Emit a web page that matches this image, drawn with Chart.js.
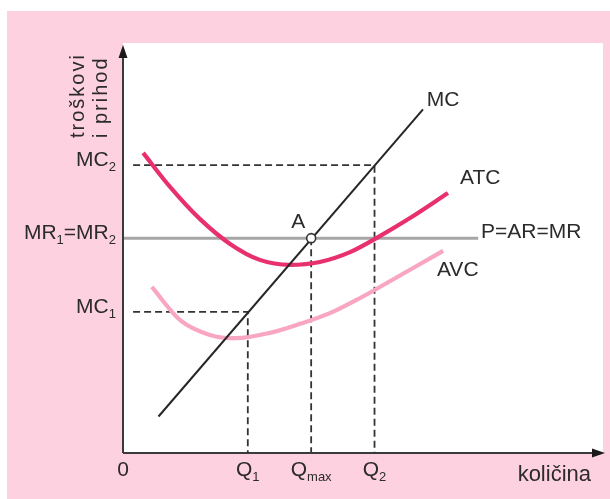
<!DOCTYPE html>
<html><head><meta charset="utf-8">
<style>html,body{margin:0;padding:0;background:#fff}canvas{display:block}</style>
<script src="https://cdn.jsdelivr.net/npm/chart.js@4.4.0/dist/chart.umd.min.js"></script>
</head><body>
<canvas id="c" width="610" height="499"></canvas>
<script>
// ---- data ----
const xTickValues = [0, 26, 39.2, 52.4];
const xTickLabels = ['0', 'Q_1', 'Q_max', 'Q_2'];
const yTickValues = [70.2, 52.4, 34.4];
const yTickLabels = ['MC_2', 'MR_1=MR_2', 'MC_1'];

const mcX = [7.4, 62.5];
const mcY = [8.9, 83.8];
const atcX = [4.2, 9.8, 16.0, 22.3, 28.5, 34.8, 41.0, 47.3, 53.5, 59.8, 67.7];
const atcY = [73.2, 64.9, 57.1, 51.0, 47.1, 45.9, 46.6, 49.0, 52.9, 57.3, 63.4];
const avcX = [6.0, 11.9, 18.1, 23.5, 30.6, 36.9, 43.1, 49.4, 55.6, 61.9, 66.7];
const avcY = [40.5, 32.4, 28.8, 28.0, 29.3, 31.5, 34.1, 37.8, 41.9, 46.1, 49.3];
const priceX = [0, 74];
const priceLevel = 52.4;
const pointAX = 39.2;
const pointAY = 52.4;

const curveNames = ['MC', 'ATC', 'AVC', 'P=AR=MR', 'A'];
const xAxisTitle = 'količina';
const yAxisTitle = ['troškovi', 'i prihod'];

// ---- annotation placement (layout config) ----
const annot = {
  MC: {x: 63.3, y: 86.1, align: 'left'},
  ATC: {x: 70.2, y: 67.1, align: 'left'},
  AVC: {x: 65.4, y: 44.6, align: 'left'},
  'P=AR=MR': {x: 74.6, y: 53.9, align: 'left'},
  A: {x: 36.5, y: 56.3, align: 'center'}
};
const dashStartX = 2.1;

const pts = (xs, ys) => xs.map((x, i) => ({x, y: ys[i]}));

// dashed guide lines built from tick values
const guideMC2 = [{x: dashStartX, y: yTickValues[0]}, {x: xTickValues[3], y: yTickValues[0]}, {x: xTickValues[3], y: 0}];
const guideMC1 = [{x: dashStartX, y: yTickValues[2]}, {x: xTickValues[1], y: yTickValues[2]}, {x: xTickValues[1], y: 0}];
const guideQmax = [{x: xTickValues[2], y: priceLevel}, {x: xTickValues[2], y: 0}];

const TXT = '#2b2b2b';
const FONT = '"Liberation Sans", Arial, sans-serif';

function parseRich(s) {
  const parts = [];
  let i = 0, cur = '', sub = false;
  while (i < s.length) {
    const ch = s[i];
    if (ch === '_') { if (cur) parts.push({t: cur, sub}); cur = ''; sub = true; }
    else if (ch === '=' && sub) { if (cur) parts.push({t: cur, sub}); cur = '='; sub = false; }
    else cur += ch;
    i++;
  }
  if (cur) parts.push({t: cur, sub});
  return parts;
}
function drawRich(ctx, s, x, y, align, size) {
  const parts = parseRich(s);
  const mainF = size + 'px ' + FONT, subF = Math.round(size * 0.62) + 'px ' + FONT;
  let w = 0;
  parts.forEach(p => { ctx.font = p.sub ? subF : mainF; p.w = ctx.measureText(p.t).width; w += p.w; });
  let cx = align === 'right' ? x - w : align === 'center' ? x - w / 2 : x;
  ctx.textAlign = 'left'; ctx.textBaseline = 'middle'; ctx.fillStyle = TXT;
  parts.forEach(p => {
    ctx.font = p.sub ? subF : mainF;
    ctx.fillText(p.t, cx, p.sub ? y + 7 : y);
    cx += p.w;
  });
}

const deco = {
  id: 'deco',
  beforeDraw(chart) {
    const {ctx, chartArea: a} = chart;
    ctx.save();
    ctx.fillStyle = '#ffffff'; ctx.fillRect(0, 0, chart.width, chart.height);
    ctx.fillStyle = '#fed1e0'; ctx.fillRect(7, 11, chart.width - 7, chart.height - 11);
    ctx.fillStyle = '#ffffff'; ctx.fillRect(a.left, a.top, a.right - a.left, a.bottom - a.top);
    ctx.restore();
  },
  afterDraw(chart) {
    const {ctx, chartArea: a, scales: {x, y}} = chart;
    ctx.save();
    // axes
    ctx.strokeStyle = '#3a3a3a'; ctx.fillStyle = '#1a1a1a'; ctx.lineWidth = 2;
    const ox = x.getPixelForValue(0), oy = y.getPixelForValue(0);
    ctx.beginPath(); ctx.moveTo(ox, oy); ctx.lineTo(ox, a.top + 8); ctx.stroke();
    ctx.beginPath(); ctx.moveTo(ox, a.top + 2); ctx.lineTo(ox - 4.5, a.top + 15); ctx.lineTo(ox + 4.5, a.top + 15); ctx.closePath(); ctx.fill();
    ctx.beginPath(); ctx.moveTo(ox, oy); ctx.lineTo(a.right - 8, oy); ctx.stroke();
    ctx.beginPath(); ctx.moveTo(a.right + 2, oy); ctx.lineTo(a.right - 11, oy - 4.5); ctx.lineTo(a.right - 11, oy + 4.5); ctx.closePath(); ctx.fill();
    // x ticks
    xTickValues.forEach((v, i) => drawRich(ctx, xTickLabels[i], x.getPixelForValue(v), oy + 17, 'center', 21));
    // y ticks
    yTickValues.forEach((v, i) => drawRich(ctx, yTickLabels[i], ox - 7, y.getPixelForValue(v) - 5, 'right', 21));
    // curve labels
    curveNames.forEach(n => {
      const p = annot[n];
      drawRich(ctx, n, x.getPixelForValue(p.x), y.getPixelForValue(p.y), p.align, 21);
    });
    // axis titles
    ctx.fillStyle = TXT; ctx.font = '22px ' + FONT; ctx.textAlign = 'right'; ctx.textBaseline = 'middle';
    ctx.fillText(xAxisTitle, a.right - 12, oy + 22);
    ctx.save();
    ctx.font = '20px ' + FONT;
    ctx.letterSpacing = '2px';
    ctx.textAlign = 'left'; ctx.textBaseline = 'alphabetic';
    [[84, yAxisTitle[0]], [107, yAxisTitle[1]]].forEach(([bx, t]) => {
      ctx.save(); ctx.translate(bx, 138); ctx.rotate(-Math.PI / 2); ctx.fillText(t, 0, 0); ctx.restore();
    });
    ctx.restore();
    ctx.restore();
  }
};

const line = (data, color, width, extra) => Object.assign({
  data, showLine: true, borderColor: color, borderWidth: width, pointRadius: 0,
  tension: 0, fill: false, borderCapStyle: 'butt'
}, extra || {});

new Chart(document.getElementById('c'), {
  type: 'scatter',
  data: {
    datasets: [
      {data: [{x: pointAX, y: pointAY}], pointRadius: 4.5, pointBackgroundColor: '#fff', pointBorderColor: '#333', pointBorderWidth: 1.6, showLine: false},
      line(pts(mcX, mcY), '#262626', 2),
      line(pts(atcX, atcY), '#e8306e', 4.2, {cubicInterpolationMode: 'monotone'}),
      line(pts(avcX, avcY), '#f9a6c3', 4.2, {cubicInterpolationMode: 'monotone'}),
      line(pts(priceX, [priceLevel, priceLevel]), '#a6a6a6', 3),
      line(guideMC2, '#333', 1.8, {borderDash: [7, 4]}),
      line(guideMC1, '#333', 1.8, {borderDash: [7, 4]}),
      line(guideQmax, '#333', 1.8, {borderDash: [7, 4]})
    ]
  },
  options: {
    responsive: false, animation: false, devicePixelRatio: 1,
    layout: {padding: {left: 123, right: 7, top: 43, bottom: 46}},
    plugins: {legend: {display: false}, tooltip: {enabled: false}},
    scales: {
      x: {type: 'linear', min: 0, max: 100, display: false},
      y: {type: 'linear', min: 0, max: 100, display: false}
    },
    clip: false
  },
  plugins: [deco]
});
</script>
</body></html>
